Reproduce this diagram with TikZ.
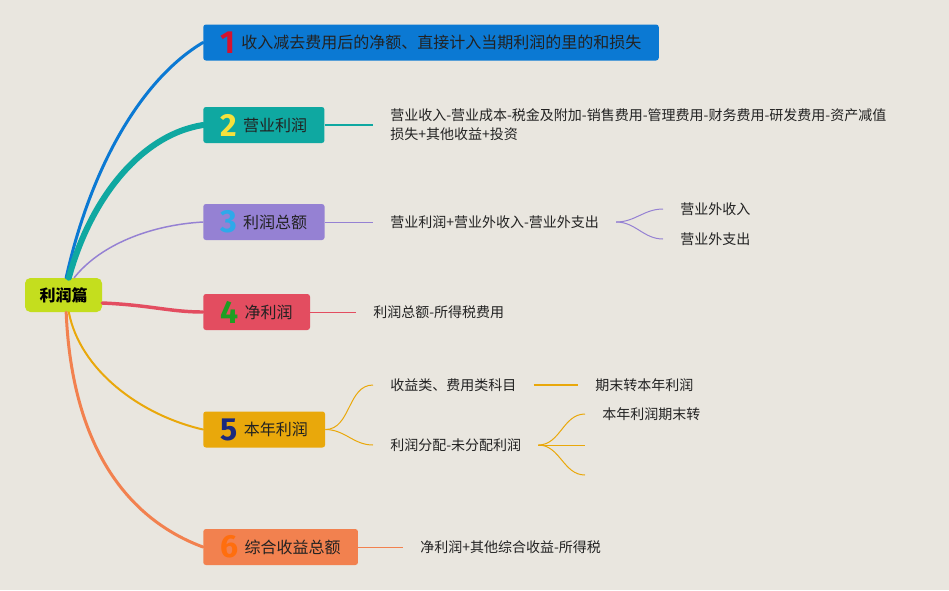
\documentclass[tikz,border=0pt]{standalone}
\usepackage{fontspec}
\setmainfont{Noto Sans CJK SC}
\newfontfamily\numfont{Fira Sans}

\definecolor{bgcol}{HTML}{E9E6DF}
\definecolor{rootcol}{HTML}{C4DE1E}
\definecolor{c1}{HTML}{0B79D3}
\definecolor{c2}{HTML}{0FA8A1}
\definecolor{c3}{HTML}{9581D3}
\definecolor{c4}{HTML}{E34D60}
\definecolor{c5}{HTML}{E9A80B}
\definecolor{c6}{HTML}{F2814F}
\definecolor{n1}{HTML}{D5122F}
\definecolor{n2}{HTML}{F6E13C}
\definecolor{n3}{HTML}{2EA9EA}
\definecolor{n4}{HTML}{1E9E22}
\definecolor{n5}{HTML}{1B2A7E}
\definecolor{n6}{HTML}{FF6E0E}
\definecolor{ink}{HTML}{222222}

\newcommand\branchnum[2]{\raisebox{-3.5pt}{\numfont\bfseries\fontsize{24}{24}\selectfont\textcolor{#1}{#2}}\hspace{4.5pt}}

\begin{document}
\begin{tikzpicture}[x=0.75pt, y=-0.75pt,
  root/.style={rounded corners=4pt, fill=rootcol, minimum width=57.75pt, minimum height=25.5pt,
    inner sep=0pt, font=\fontsize{12}{14}\bfseries\selectfont, text=black},
  box/.style={anchor=west, rounded corners=2pt, minimum height=27pt, inner xsep=13pt, inner ysep=0pt,
    font=\fontsize{12}{14}\selectfont, text=ink},
  leaf/.style={anchor=west, inner xsep=12.75pt, inner ysep=1pt, align=left, text=ink,
    font=\fontsize{10.5}{14.25}\selectfont},
  link/.style={line cap=round}]
  \useasboundingbox (0,0) rectangle (949,590);
  \fill[bgcol] (0,0) rectangle (949,590);

  % main topic and branches
  \node[root] (root) at (63.5,295) {利润篇};
  \node[box, fill=c1] (b1) at (203,42.5) {\branchnum{n1}{1}收入减去费用后的净额、直接计入当期利润的里的和损失};
  \node[box, fill=c2] (b2) at (203,125) {\branchnum{n2}{2}营业利润};
  \node[box, fill=c3] (b3) at (203,222) {\branchnum{n3}{3}利润总额};
  \node[box, fill=c4] (b4) at (203,312) {\branchnum{n4}{4}净利润};
  \node[box, fill=c5] (b5) at (203,429.5) {\branchnum{n5}{5}本年利润};
  \node[box, fill=c6] (b6) at (203,547) {\branchnum{n6}{6}综合收益总额};

  \draw[link, c1, line width=2.25pt] ([xshift=2pt]root.north) .. controls (90,170) and (140,80) .. (b1.west);
  \draw[link, c2, line width=4.5pt] ([xshift=4pt]root.north) .. controls (90,200) and (140,135) .. (b2.west);
  \draw[link, c3, line width=1.1pt] ([xshift=8pt]root.north) .. controls (100,245) and (150,225) .. (b3.west);
  \draw[link, c4, line width=2.6pt] ([yshift=-6pt]root.east) .. controls (150,305) and (170,312) .. (b4.west);
  \draw[link, c5, line width=1.5pt] ([xshift=4pt]root.south) .. controls (80,370) and (140,415) .. (b5.west);
  \draw[link, c6, line width=2.25pt] ([xshift=2pt]root.south) .. controls (72,450) and (130,520) .. (b6.west);

  % details
  \node[leaf] (l2) at (373,125) {营业收入-营业成本-税金及附加-销售费用-管理费用-财务费用-研发费用-资产减值\\损失+其他收益+投资};
  \node[leaf] (l3) at (373,222) {营业利润+营业外收入-营业外支出};
  \node[leaf] (l3a) at (663,209) {营业外收入};
  \node[leaf] (l3b) at (663,239) {营业外支出};
  \node[leaf] (l4) at (356,312) {利润总额-所得税费用};
  \node[leaf] (l5a) at (373,385) {收益类、费用类科目};
  \node[leaf] (l5b) at (373,445) {利润分配-未分配利润};
  \node[leaf] (l5c) at (578,385) {期末转本年利润};
  \node[leaf] (l5d) at (585,414) {本年利润期末转};
  \coordinate (e1) at (585,445);
  \coordinate (e2) at (585,475);
  \node[leaf] (l6) at (403,547) {净利润+其他综合收益-所得税};

  \draw[c2, line width=1.1pt] (b2.east) -- (l2.west);
  \draw[c3, line width=0.75pt] (b3.east) -- (l3.west);
  \draw[c3, line width=0.75pt] (l3.east) to[out=0, in=180] (l3a.west);
  \draw[c3, line width=0.75pt] (l3.east) to[out=0, in=180] (l3b.west);
  \draw[c4, line width=0.75pt] (b4.east) -- (l4.west);
  \draw[c5, line width=0.75pt] (b5.east) to[out=0, in=180] (l5a.west);
  \draw[c5, line width=0.75pt] (b5.east) to[out=0, in=180] (l5b.west);
  \draw[c5, line width=1pt] (l5a.east) -- (l5c.west);
  \draw[c5, line width=0.75pt] (l5b.east) to[out=0, in=180] (l5d.west);
  \draw[c5, line width=0.75pt] (l5b.east) -- (e1);
  \draw[c5, line width=0.75pt] (l5b.east) to[out=0, in=180] (e2);
  \draw[c6, line width=0.75pt] (b6.east) -- (l6.west);
\end{tikzpicture}
\end{document}
